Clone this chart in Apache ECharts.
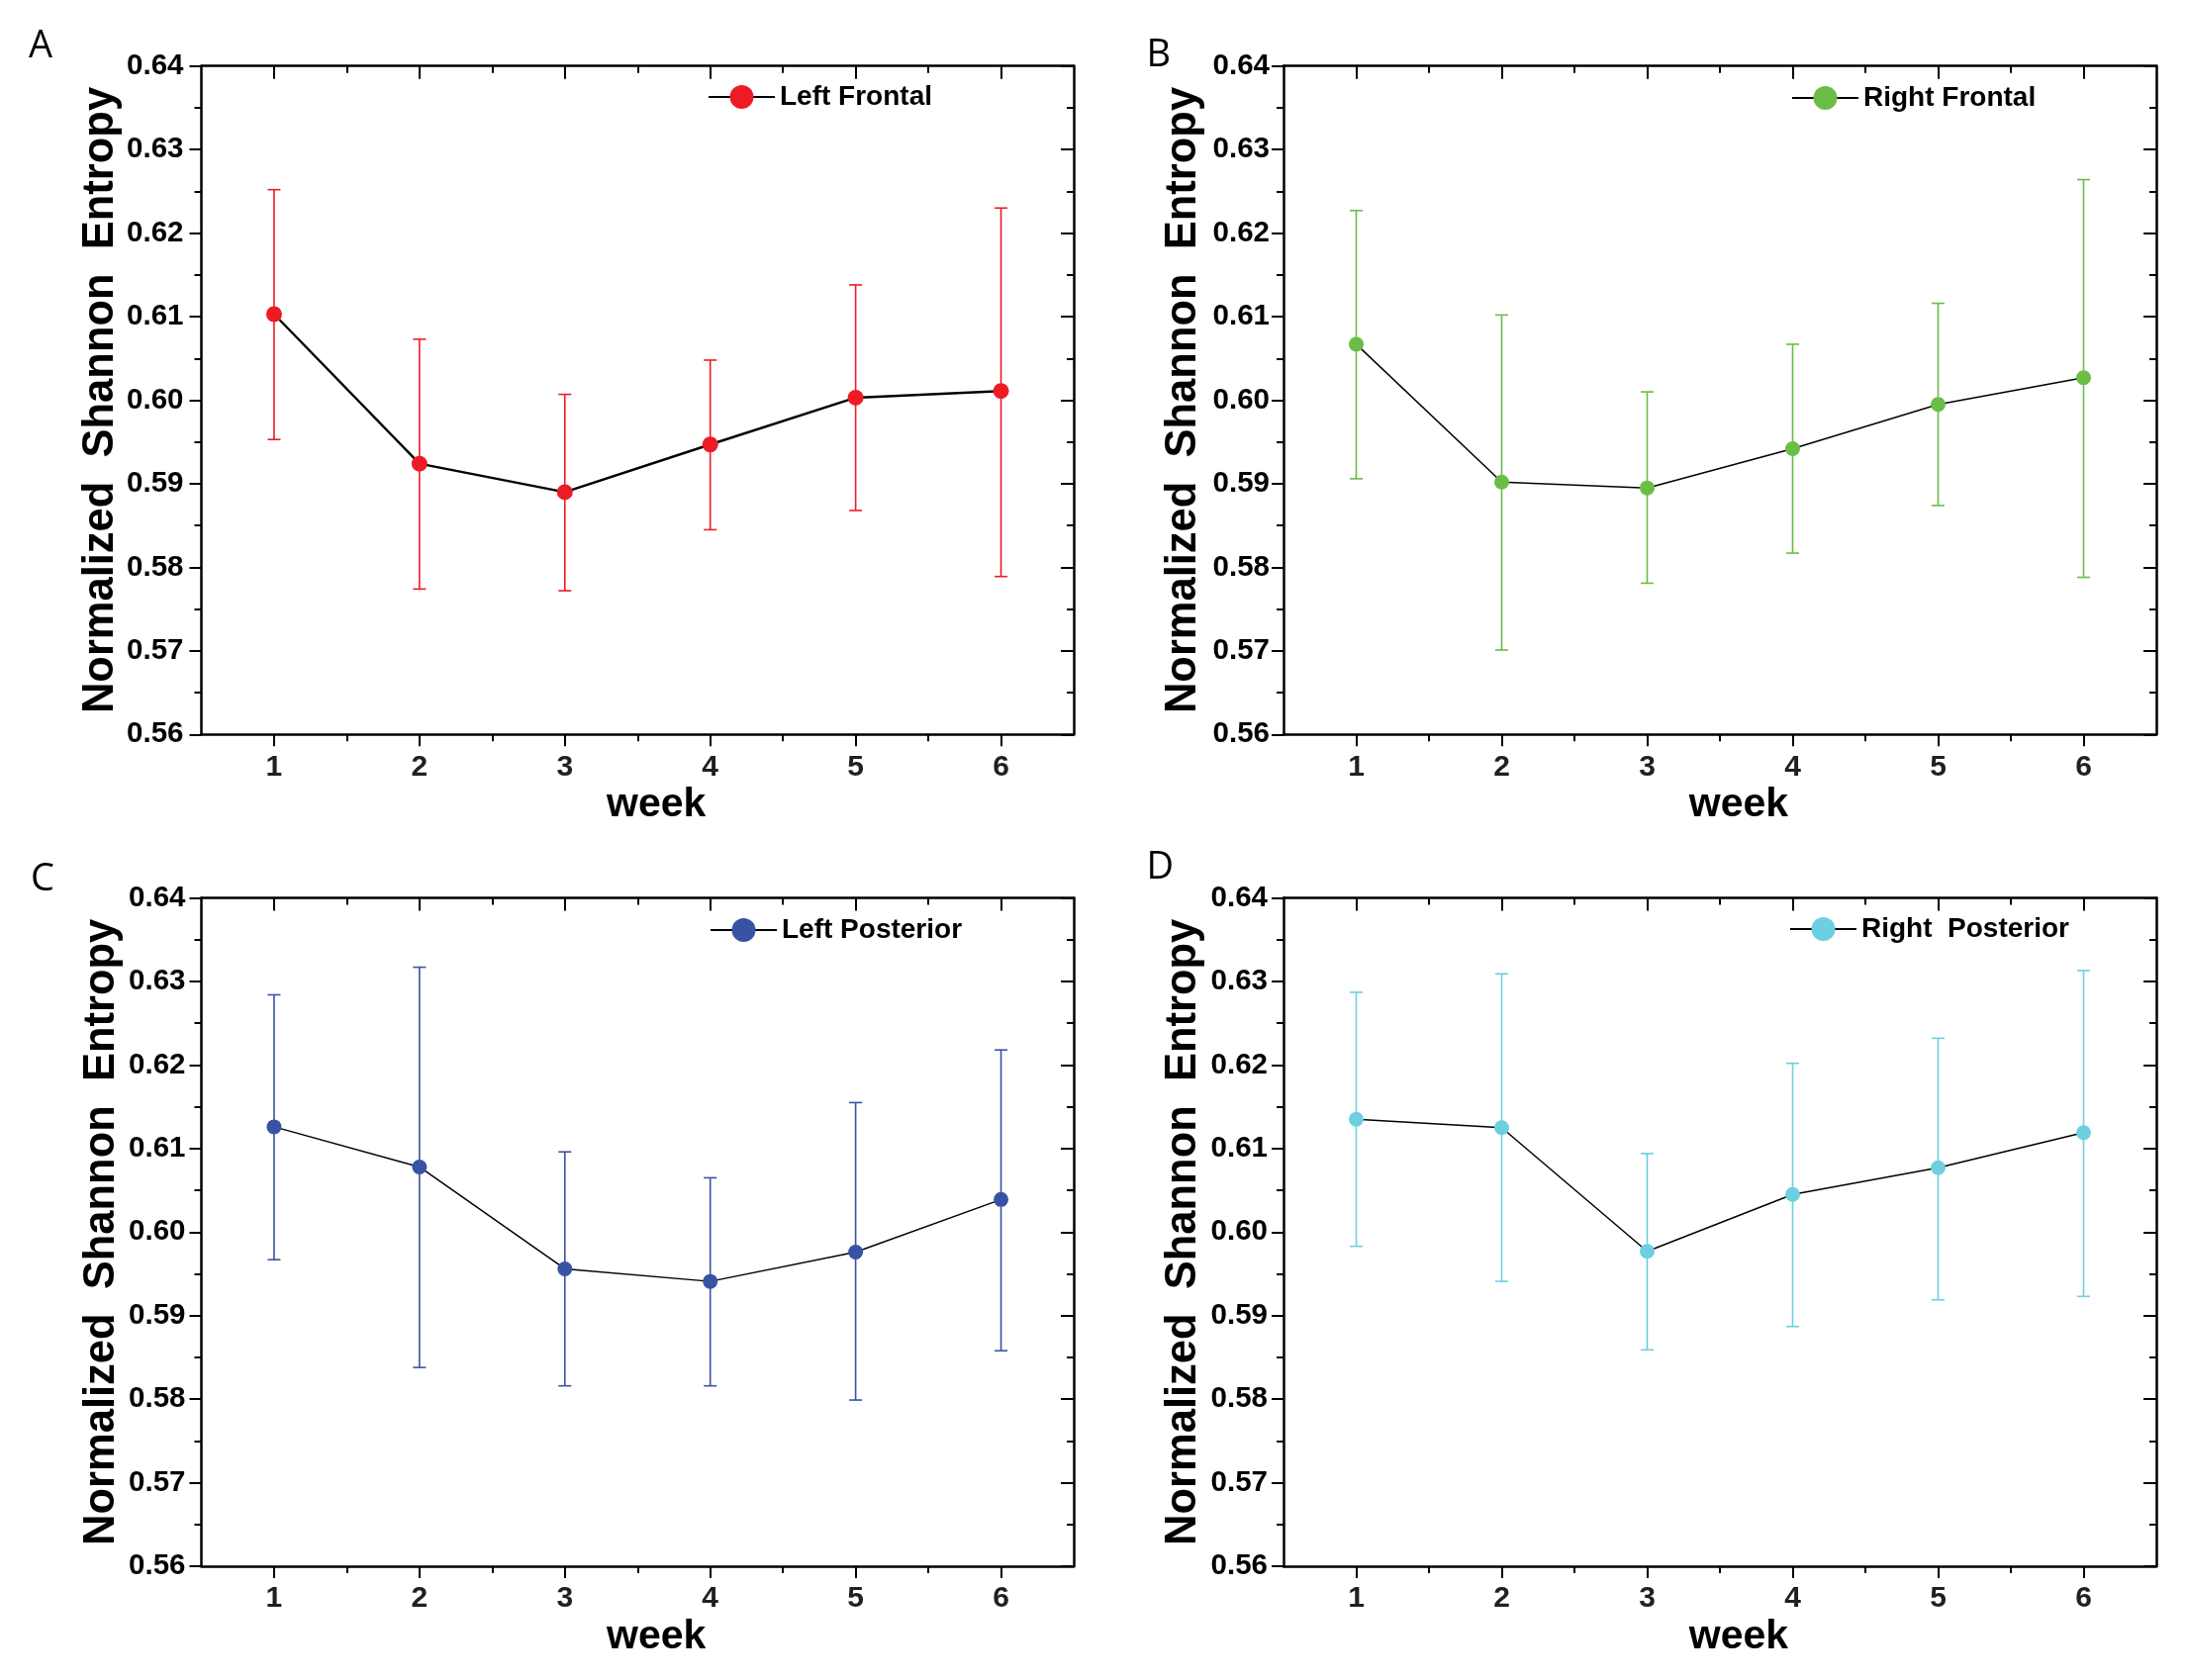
<!DOCTYPE html>
<html>
<head>
<meta charset="utf-8">
<script src="https://cdn.jsdelivr.net/npm/echarts@6/dist/echarts.min.js"></script>
<style>
html,body{margin:0;padding:0;background:#ffffff;}
#chart{width:2210px;height:1698px;}
</style>
</head>
<body>
<div id="chart"></div>
<script>
// ---------- data ----------
const weeks = [1, 2, 3, 4, 5, 6];
const halfWeeks = [1.5, 2.5, 3.5, 4.5, 5.5];

const panelLetters = ['A', 'B', 'C', 'D'];
const seriesNames = ['Left Frontal', 'Right Frontal', 'Left Posterior', 'Right  Posterior'];
const seriesColors = ['#ED1C24', '#6ABD45', '#3953A4', '#6DCFE0'];

const leftFrontalMean  = [0.6103, 0.5924, 0.5890, 0.5947, 0.6003, 0.6011];
const leftFrontalUpper = [0.6252, 0.6073, 0.6007, 0.6048, 0.6138, 0.6230];
const leftFrontalLower = [0.5953, 0.5774, 0.5772, 0.5845, 0.5868, 0.5789];

const rightFrontalMean  = [0.6067, 0.5902, 0.5895, 0.5942, 0.5995, 0.6027];
const rightFrontalUpper = [0.6227, 0.6102, 0.6010, 0.6067, 0.6116, 0.6264];
const rightFrontalLower = [0.5906, 0.5701, 0.5781, 0.5817, 0.5874, 0.5788];

const leftPosteriorMean  = [0.6126, 0.6078, 0.5956, 0.5941, 0.5976, 0.6039];
const leftPosteriorUpper = [0.6284, 0.6317, 0.6096, 0.6065, 0.6155, 0.6218];
const leftPosteriorLower = [0.5967, 0.5838, 0.5816, 0.5816, 0.5799, 0.5858];

const rightPosteriorMean  = [0.6135, 0.6125, 0.5977, 0.6045, 0.6077, 0.6119];
const rightPosteriorUpper = [0.6287, 0.6309, 0.6094, 0.6202, 0.6232, 0.6313];
const rightPosteriorLower = [0.5983, 0.5941, 0.5859, 0.5887, 0.5919, 0.5923];

const yMin = 0.56, yMax = 0.64, yStep = 0.01;
const xMin = 0.5, xMax = 6.5;
const xName = 'week';
const yName = 'Normalized  Shannon  Entropy';

// ---------- layout / style ----------
const means  = [leftFrontalMean, rightFrontalMean, leftPosteriorMean, rightPosteriorMean];
const uppers = [leftFrontalUpper, rightFrontalUpper, leftPosteriorUpper, rightPosteriorUpper];
const lowers = [leftFrontalLower, rightFrontalLower, leftPosteriorLower, rightPosteriorLower];

const grids = [
  {left: 203.5, top: 66.7, width: 881.5, height: 675.6},
  {left: 1297,  top: 66.7, width: 882,   height: 675.6},
  {left: 203.5, top: 907.5, width: 881.5, height: 675.6},
  {left: 1297,  top: 907.5, width: 882,   height: 675.6}
];
const legendPos = [
  {left: 715, top: 84},
  {left: 1810, top: 85},
  {left: 717, top: 926},
  {left: 1808, top: 925}
];
const letterPos = [
  {x: 29, y: 43.5},
  {x: 1158.5, y: 52.5},
  {x: 31, y: 885.5},
  {x: 1158.5, y: 873}
];
const yLabelMargins = [18, 14, 16, 16];
const lineWidths = [2.4, 1.5, 1.5, 1.5];
const FONT = 'Liberation Sans, Arial, sans-serif';
const AX = '#000000';

const option = {
  animation: false,
  backgroundColor: '#ffffff',
  grid: [],
  xAxis: [],
  yAxis: [],
  legend: [],
  series: [],
  graphic: []
};

for (let p = 0; p < 4; p++) {
  option.grid.push(Object.assign({containLabel: false}, grids[p]));

  const baseX = {
    type: 'value', gridIndex: p, min: xMin, max: xMax,
    splitLine: {show: false}
  };
  // bottom: major ticks + labels + name
  option.xAxis.push(Object.assign({}, baseX, {
    position: 'bottom',
    axisLine: {show: true, onZero: false, lineStyle: {color: AX, width: 2.5}},
    axisTick: {show: true, customValues: weeks, length: 12, lineStyle: {color: AX, width: 2}},
    axisLabel: {show: true, customValues: weeks, margin: 18, color: '#231f20',
      fontFamily: FONT, fontWeight: 'bold', fontSize: 30, lineHeight: 30,
      formatter: v => String(v)},
    name: xName, nameLocation: 'middle', nameGap: 51,
    nameTextStyle: {fontFamily: FONT, fontWeight: 'bold', fontSize: 41, lineHeight: 41,
      color: '#000', padding: [0, 0, 0, 38]}
  }));
  // bottom: minor ticks
  option.xAxis.push(Object.assign({}, baseX, {
    position: 'bottom',
    axisLine: {show: false, onZero: false},
    axisTick: {show: true, customValues: halfWeeks, length: 7, lineStyle: {color: AX, width: 2}},
    axisLabel: {show: false}
  }));
  // top: major ticks inside
  option.xAxis.push(Object.assign({}, baseX, {
    position: 'top',
    axisLine: {show: true, onZero: false, lineStyle: {color: AX, width: 2.5}},
    axisTick: {show: true, inside: true, customValues: weeks, length: 13, lineStyle: {color: AX, width: 2}},
    axisLabel: {show: false}
  }));
  // top: minor ticks inside
  option.xAxis.push(Object.assign({}, baseX, {
    position: 'top',
    axisLine: {show: false, onZero: false},
    axisTick: {show: true, inside: true, customValues: halfWeeks, length: 7, lineStyle: {color: AX, width: 2}},
    axisLabel: {show: false}
  }));

  const baseY = {
    type: 'value', gridIndex: p, min: yMin, max: yMax, interval: yStep,
    splitLine: {show: false}, minorSplitLine: {show: false}
  };
  option.yAxis.push(Object.assign({}, baseY, {
    position: 'left',
    axisLine: {show: true, onZero: false, lineStyle: {color: AX, width: 2.5}},
    axisTick: {show: true, length: 12, lineStyle: {color: AX, width: 2}},
    minorTick: {show: true, splitNumber: 2, length: 7, lineStyle: {color: AX, width: 2}},
    axisLabel: {show: true, margin: yLabelMargins[p], color: '#000',
      fontFamily: FONT, fontWeight: 'bold', fontSize: 29.5,
      formatter: v => v.toFixed(2)},
    name: yName, nameLocation: 'middle', nameGap: 79,
    nameTextStyle: {fontFamily: FONT, fontWeight: 'bold', fontSize: 43.5, lineHeight: 43.5, color: '#000'}
  }));
  option.yAxis.push(Object.assign({}, baseY, {
    position: 'right',
    axisLine: {show: true, onZero: false, lineStyle: {color: AX, width: 2.5}},
    axisTick: {show: true, inside: true, length: 13, lineStyle: {color: AX, width: 2}},
    minorTick: {show: true, splitNumber: 2, length: 7, lineStyle: {color: AX, width: 2}},
    axisLabel: {show: false}
  }));

  const color = seriesColors[p];
  const errData = weeks.map((w, i) => [w, lowers[p][i], uppers[p][i]]);
  option.series.push({
    type: 'custom',
    name: 'err' + p,
    xAxisIndex: p * 4, yAxisIndex: p * 2,
    z: 2,
    encode: {x: 0, y: [1, 2]},
    data: errData,
    renderItem: function (params, api) {
      const x = api.value(0);
      const lo = api.coord([x, api.value(1)]);
      const hi = api.coord([x, api.value(2)]);
      const half = 6.5;
      const st = {stroke: color, lineWidth: 1.6, fill: null};
      return {
        type: 'group',
        children: [
          {type: 'line', shape: {x1: hi[0], y1: hi[1], x2: lo[0], y2: lo[1]}, style: st},
          {type: 'line', shape: {x1: hi[0] - half, y1: hi[1], x2: hi[0] + half, y2: hi[1]}, style: st},
          {type: 'line', shape: {x1: lo[0] - half, y1: lo[1], x2: lo[0] + half, y2: lo[1]}, style: st}
        ]
      };
    }
  });
  option.series.push({
    type: 'line',
    name: seriesNames[p],
    xAxisIndex: p * 4, yAxisIndex: p * 2,
    z: 3,
    data: weeks.map((w, i) => [w, means[p][i]]),
    symbol: 'circle',
    symbolSize: p === 0 ? 16 : 15,
    itemStyle: {color: color, borderWidth: 0},
    lineStyle: {color: '#000', width: lineWidths[p]},
    emphasis: {disabled: true}
  });

  option.legend.push(Object.assign({
    data: [seriesNames[p]],
    orient: 'horizontal',
    itemWidth: 67, itemHeight: 30, itemGap: 0,
    padding: 0,
    selectedMode: false,
    lineStyle: {width: 2, color: '#000'},
    textStyle: {fontFamily: FONT, fontWeight: 'bold', fontSize: 28, color: '#000'}
  }, legendPos[p]));

  option.graphic.push({
    type: 'text',
    left: letterPos[p].x,
    top: letterPos[p].y - 15,
    style: {
      text: panelLetters[p],
      fontFamily: 'Open Sans, Noto Sans, sans-serif',
      fontSize: 38,
      fontWeight: 'normal',
      fill: '#000'
    }
  });
}

const chart = echarts.init(document.getElementById('chart'), null, {renderer: 'canvas'});
chart.setOption(option);
</script>
</body>
</html>
